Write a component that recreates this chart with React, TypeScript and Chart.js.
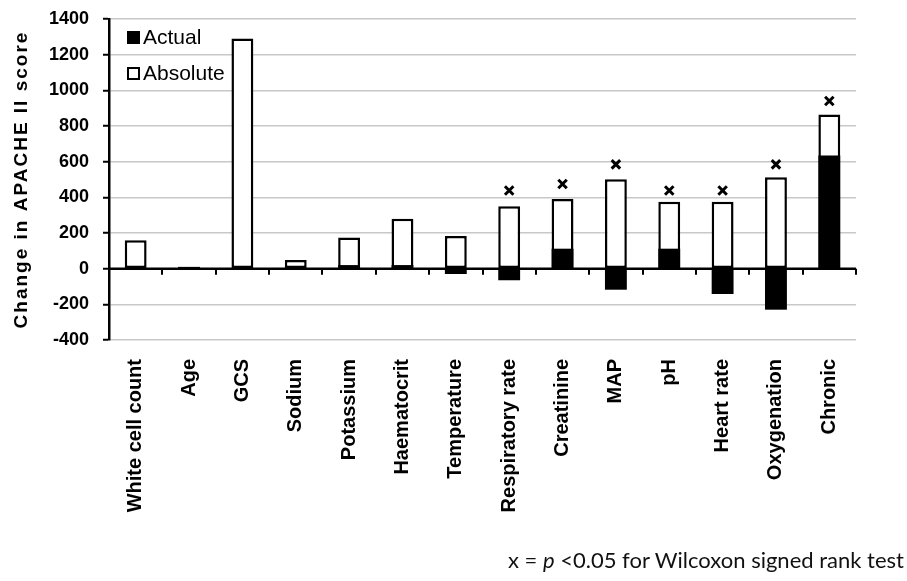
import React, { useEffect, useRef } from "react";
import { Chart, registerables } from "chart.js";

Chart.register(...registerables);

const categories = [
  "White cell count",
  "Age",
  "GCS",
  "Sodium",
  "Potassium",
  "Haematocrit",
  "Temperature",
  "Respiratory rate",
  "Creatinine",
  "MAP",
  "pH",
  "Heart rate",
  "Oxygenation",
  "Chronic",
];

// Net (signed) change in APACHE II score per component
const actualChange = [0, 10, -5, 5, 20, 20, -30, -65, 112, -118, 112, -142, -230, 635];
// Sum of absolute changes per component
const absoluteChange = [160, 10, 1290, 48, 175, 280, 183, 350, 390, 502, 375, 375, 512, 865];
// Height of the "x" significance marks (p < 0.05)
const significanceMarks: (number | null)[] = [
  null, null, null, null, null, null, null, 438, 475, 585, 438, 438, 585, 940,
];

const yTicks = { min: -400, max: 1400, step: 200 };

const FONT = "'Liberation Sans', Arial, sans-serif";

const decorations = {
  id: "decorations",
  afterDatasetsDraw(chart: any) {
    const { ctx, chartArea, scales } = chart;
    const y0 = scales.y.getPixelForValue(0);
    ctx.save();
    ctx.strokeStyle = "#000";
    ctx.lineWidth = 2.5;
    ctx.beginPath();
    ctx.moveTo(chartArea.left, y0);
    ctx.lineTo(chartArea.right, y0);
    ctx.stroke();
    // tick marks between categories on the zero line
    const step = (chartArea.right - chartArea.left) / categories.length;
    ctx.lineWidth = 2;
    ctx.beginPath();
    for (let i = 1; i <= categories.length; i++) {
      const px = Math.round(chartArea.left + step * i);
      ctx.moveTo(px, y0);
      ctx.lineTo(px, y0 + 6);
    }
    ctx.stroke();
    ctx.restore();
  },
  afterDraw(chart: any) {
    const { ctx, chartArea } = chart;
    ctx.save();
    // legend
    const lx = chartArea.left + 18;
    ctx.fillStyle = "#000";
    ctx.fillRect(lx, 31, 13, 13);
    ctx.strokeStyle = "#000";
    ctx.lineWidth = 2;
    ctx.fillStyle = "#fff";
    ctx.fillRect(lx + 1, 68, 11, 11);
    ctx.strokeRect(lx + 1, 68, 11, 11);
    ctx.fillStyle = "#000";
    ctx.font = `21px ${FONT}`;
    ctx.textAlign = "left";
    ctx.textBaseline = "middle";
    ctx.fillText("Actual", lx + 16, 38);
    ctx.fillText("Absolute", lx + 16, 74);
    // y axis title
    ctx.translate(22, (chartArea.top + chartArea.bottom) / 2);
    ctx.rotate(-Math.PI / 2);
    ctx.font = `bold 19px ${FONT}`;
    (ctx as any).letterSpacing = "2px";
    ctx.textAlign = "center";
    ctx.fillText("Change in APACHE II score", 0, 0);
    ctx.restore();
  },
};

export default function App() {
  const canvasRef = useRef<HTMLCanvasElement | null>(null);

  useEffect(() => {
    if (!canvasRef.current) return;
    const chart = new Chart(canvasRef.current, {
      type: "bar",
      data: {
        labels: categories,
        datasets: [
          {
            type: "line",
            label: "p < 0.05",
            data: significanceMarks,
            showLine: false,
            pointStyle: "crossRot",
            pointRadius: 6,
            pointBorderWidth: 3,
            borderColor: "#000",
            backgroundColor: "#000",
          } as any,
          {
            label: "Actual",
            data: actualChange,
            backgroundColor: "#000",
            borderWidth: 0,
            grouped: false,
            categoryPercentage: 1,
            barPercentage: 0.41,
          },
          {
            label: "Absolute",
            data: absoluteChange,
            backgroundColor: "#fff",
            borderColor: "#000",
            borderWidth: 2.5,
            borderSkipped: false,
            grouped: false,
            categoryPercentage: 1,
            barPercentage: 0.41,
          },
        ],
      },
      options: {
        animation: false,
        responsive: true,
        maintainAspectRatio: false,
        layout: { padding: { top: 19, right: 51, bottom: 0, left: 0 } },
        plugins: {
          legend: { display: false },
          tooltip: { enabled: false },
        },
        scales: {
          x: {
            grid: { display: false },
            border: { display: false },
            ticks: {
              autoSkip: false,
              maxRotation: 90,
              minRotation: 90,
              padding: 11,
              color: "#000",
              font: { family: FONT, size: 20, weight: "bold" },
            },
            afterFit: (scale: any) => {
              scale.height = 241;
            },
          },
          y: {
            min: yTicks.min,
            max: yTicks.max,
            ticks: {
              stepSize: yTicks.step,
              padding: 14,
              color: "#000",
              font: { family: FONT, size: 18, weight: "bold" },
              callback: (v: any) => String(v),
            },
            grid: {
              color: (c: any) => (c.tick && c.tick.value === 0 ? "#000" : "#c8c8c8"),
              lineWidth: 1.5,
              tickColor: "#000",
              tickLength: 6,
              tickWidth: 2,
            },
            border: { color: "#000", width: 2.5 },
            afterFit: (scale: any) => {
              scale.width = 109;
              scale.paddingTop = 0;
              scale.paddingBottom = 0;
            },
          },
        },
      },
      plugins: [decorations],
    });
    return () => chart.destroy();
  }, []);

  return (
    <div style={{ position: "fixed", left: 0, top: 0, width: 907, height: 581, background: "#fff" }}>
      <canvas ref={canvasRef} />
      <div
        style={{
          position: "absolute",
          left: 508,
          top: 546,
          fontFamily: "Lato, 'Open Sans', sans-serif",
          fontSize: 22,
          color: "#111",
          whiteSpace: "nowrap",
        }}
      >
        x = <i>p</i> &lt;0.05 for Wilcoxon signed rank test
      </div>
    </div>
  );
}
